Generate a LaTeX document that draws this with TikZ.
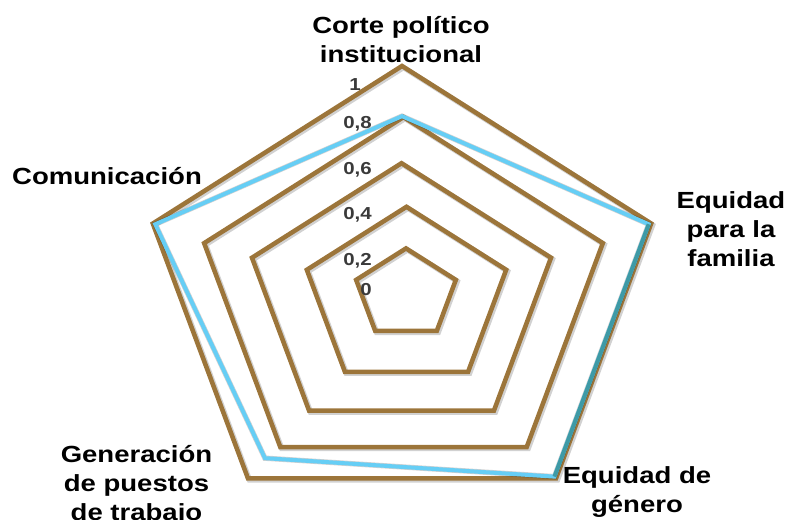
\documentclass[tikz,border=0pt]{standalone}
\usepackage{fontspec}
\setmainfont[FakeStretch=1.18]{Liberation Sans}
\usepackage{xcolor}
\usepackage{tikz}
\usetikzlibrary{positioning,calc}
\definecolor{radarbrown}{RGB}{156,117,58}

\begin{document}
\begin{tikzpicture}[x=0.75pt,y=0.75pt]
	\definecolor{radarblue}{RGB}{102,206,245}
	\definecolor{radarteal}{RGB}{62,154,166}
	\definecolor{tickgray}{RGB}{58,58,58}
	\tikzset{
		gridline/.style={
			draw=radarbrown,
			line width=3.4pt
		},
		gridshadow/.style={
			draw=black,
			opacity=0.18,
			line width=4pt
		},
		serieline/.style={draw=radarblue, line width=3pt},
		serieover/.style={draw=radarteal, line width=3pt},
		axislabel/.style={
			font=\bfseries\fontsize{17.5}{21.5}\selectfont,
			align=center,
			inner sep=0pt,
			text=black
		},
		ticklabel/.style={
			font=\bfseries\fontsize{13}{15}\selectfont,
			text=tickgray,
			inner sep=0pt,
			anchor=base east
		}
	}
	\useasboundingbox (-402,-225) rectangle (387,294);
	
	% rejilla de niveles 0,2 ... 1
	\foreach \k/\ox/\oy in {0.2/4/0, 0.4/4.5/-4, 0.6/-0.5/-6, 0.8/1.5/-5.5, 1/0/0}{
		\draw[gridshadow, shift={(\ox+1.5,\oy-1.5)}] (90:{262*\k} and {228*\k})
			\foreach \a in {18,-54,-126,162}{ -- (\a:{262*\k} and {228*\k}) } -- cycle;
		\draw[gridline, shift={(\ox,\oy)}] (90:{262*\k} and {228*\k})
			\foreach \a in {18,-54,-126,162}{ -- (\a:{262*\k} and {228*\k}) } -- cycle;
	}
	
	% serie
	\coordinate (corte) at (90:{262*0.78} and {228*0.78});
	\coordinate (familia) at (18:{262*0.99} and {228*0.99});
	\coordinate (genero) at (-54:{262*0.99} and {228*0.99});
	\coordinate (puestos) at (-126:{262*0.89} and {228*0.89});
	\coordinate (comunic) at (162:{262*0.99} and {228*0.99});
	
	\draw[gridshadow, shift={(1.5,-1.5)}] (corte) -- (familia) -- (genero) -- (puestos) -- (comunic) -- cycle;
	\draw[serieline] (corte) -- (familia) -- (genero) -- (puestos) -- (comunic) -- cycle;
	\draw[serieover] (familia) -- (genero);
	
	% valores del eje
	\node[ticklabel] (t10) at (-41,203.2) {1};
	\node[ticklabel] (t8) at (-30,165.5) {0,8};
	\node[ticklabel] (t6) at (-30,119.2) {0,6};
	\node[ticklabel] (t4) at (-30,74.2) {0,4};
	\node[ticklabel] (t2) at (-30,28.2) {0,2};
	\node[ticklabel] (t0) at (-30,-1.8) {0};
	
	% categorias
	\node[axislabel] (lcorte) at (-1,254.5) {Corte político\\institucional};
	\node[axislabel] (lfamilia) at (329,65) {Equidad\\para la\\familia};
	\node[axislabel] (lgenero) at (235,-198) {Equidad de\\género};
	\node[axislabel] (lpuestos) at (-265.5,-191.5) {Generación\\de puestos\\de trabajo};
	\node[axislabel] (lcomunic) at (-295,118) {Comunicación};
\end{tikzpicture}
\end{document}
